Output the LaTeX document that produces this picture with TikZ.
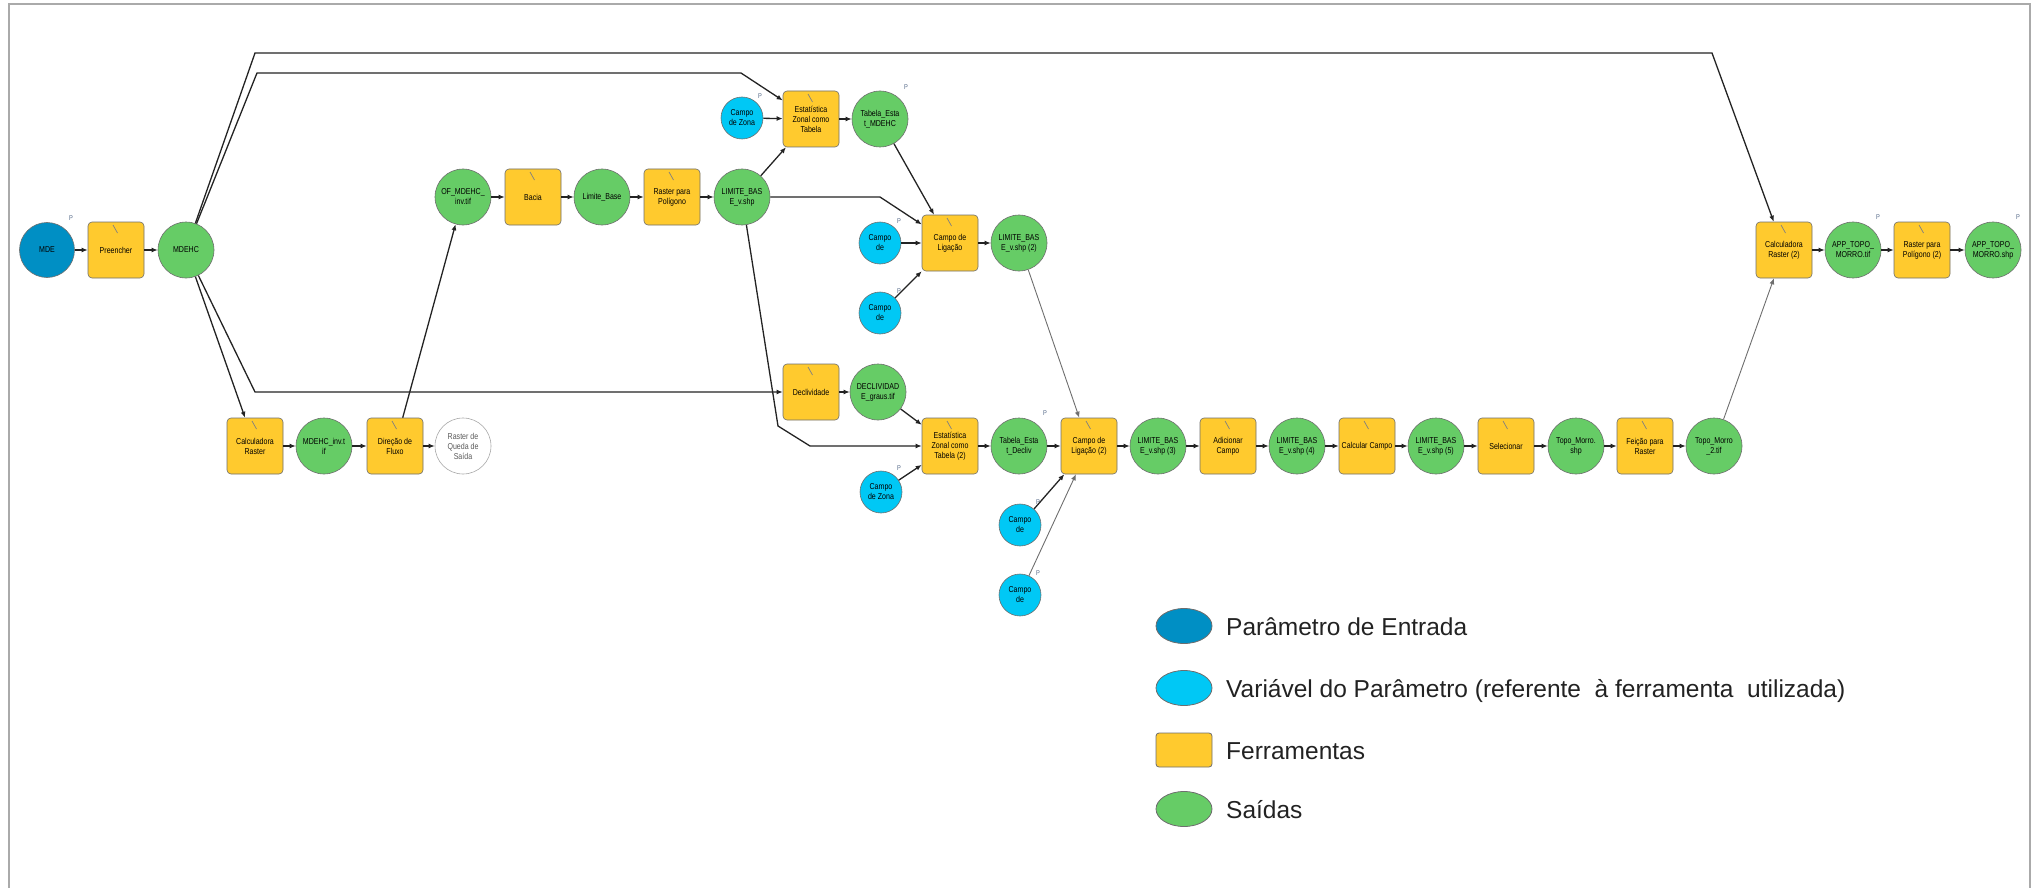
\documentclass[tikz,border=0pt]{standalone}
\usepackage{fontspec}
\setmainfont{Liberation Sans}
\newfontfamily\nf[FakeStretch=0.82]{Liberation Sans}
\usetikzlibrary{shapes.geometric,arrows.meta}
\definecolor{cblue}{RGB}{0,143,196}
\definecolor{ccyan}{RGB}{0,200,245}
\definecolor{cyel}{RGB}{255,202,46}
\definecolor{cgreen}{RGB}{102,204,102}
\definecolor{cedge}{RGB}{110,110,110}
\definecolor{cline}{RGB}{35,35,35}
\definecolor{cthin}{RGB}{110,110,110}
\definecolor{cframe}{RGB}{170,170,170}
\definecolor{cP}{RGB}{90,110,140}
\definecolor{ctext}{RGB}{34,34,34}
\begin{document}
\begin{tikzpicture}[x=1pt,y=-1pt,
  lbl/.style={font=\nf\fontsize{8.6}{10}\selectfont, align=center, text=black},
  tool/.style={lbl, rectangle, rounded corners=4pt, draw=cedge, line width=0.6pt, fill=cyel,
    minimum width=56pt, minimum height=56pt, inner sep=1pt,
    path picture={\draw[gray, line width=0.7pt] ([xshift=-3pt,yshift=-3pt]path picture bounding box.north) -- ([xshift=1.5pt,yshift=-11pt]path picture bounding box.north);}},
  outp/.style={lbl, circle, draw=cedge, line width=0.6pt, fill=cgreen, minimum size=56pt, inner sep=0pt},
  varp/.style={lbl, circle, draw=cedge, line width=0.6pt, fill=ccyan, minimum size=42pt, inner sep=0pt},
  inp/.style={lbl, circle, draw=cedge, line width=0.6pt, fill=cblue, minimum size=55pt, inner sep=0pt},
  emptyp/.style={lbl, circle, draw=cedge!60, line width=0.6pt, fill=white, minimum size=56pt, inner sep=0pt, text=gray!70!black},
  conn/.style={draw=cline, line width=1.3pt, -{Latex[length=6pt,width=5pt]}},
  thinconn/.style={draw=cthin, line width=0.9pt, -{Latex[length=6pt,width=5pt]}},
  ptag/.style={font=\nf\fontsize{7}{7}\selectfont, text=cP, inner sep=0pt},
  lgtext/.style={font=\fontsize{24.5}{28}\selectfont, text=ctext, inner sep=0pt, anchor=base west},
  lgell/.style={ellipse, draw=cedge, line width=0.8pt, minimum width=56pt, minimum height=35pt, inner sep=0pt}
]
\useasboundingbox (0,0) rectangle (2038,888);
\draw[cframe, line width=2pt] (9,888) -- (9,4) -- (2030,4) -- (2030,888);

% nodes
\node[inp] (mde) at (47,250) {MDE};
\node[tool] (pre) at (116,250) {Preencher};
\node[outp] (mdehc) at (186,250) {MDEHC};
\node[tool] (calc) at (255,446) {Calculadora\\Raster};
\node[outp] (inv) at (324,446) {MDEHC\_inv.t\\if};
\node[tool] (dir) at (395,446) {Direção de\\Fluxo};
\node[emptyp] (queda) at (463,446) {Raster de\\Queda de\\Saída};
\node[outp] (of) at (463,197) {OF\_MDEHC\_\\inv.tif};
\node[tool] (bacia) at (533,197) {Bacia};
\node[outp] (lbase) at (602,197) {Limite\_Base};
\node[tool] (rp) at (672,197) {Raster para\\Polígono};
\node[outp] (lim1) at (742,197) {LIMITE\_BAS\\E\_v.shp};
\node[varp] (cz1) at (742,118) {Campo\\de Zona};
\node[tool] (ez1) at (811,119) {Estatística\\Zonal como\\Tabela};
\node[outp] (tab1) at (880,119) {Tabela\_Esta\\t\_MDEHC};
\node[varp] (ca1) at (880,243) {Campo\\de};
\node[varp] (cb1) at (880,313) {Campo\\de};
\node[tool] (cl1) at (950,243) {Campo de\\Ligação};
\node[outp] (lim2) at (1019,243) {LIMITE\_BAS\\E\_v.shp (2)};
\node[tool] (decl) at (811,392) {Declividade};
\node[outp] (dec) at (878,392) {DECLIVIDAD\\E\_graus.tif};
\node[tool] (ez2) at (950,446) {Estatística\\Zonal como\\Tabela (2)};
\node[varp] (cz2) at (881,492) {Campo\\de Zona};
\node[outp] (tab2) at (1019,446) {Tabela\_Esta\\t\_Decliv};
\node[tool] (cl2) at (1089,446) {Campo de\\Ligação (2)};
\node[varp] (ca2) at (1020,525) {Campo\\de};
\node[varp] (cb2) at (1020,595) {Campo\\de};
\node[outp] (lim3) at (1158,446) {LIMITE\_BAS\\E\_v.shp (3)};
\node[tool] (adic) at (1228,446) {Adicionar\\Campo};
\node[outp] (lim4) at (1297,446) {LIMITE\_BAS\\E\_v.shp (4)};
\node[tool] (ccampo) at (1367,446) {Calcular Campo};
\node[outp] (lim5) at (1436,446) {LIMITE\_BAS\\E\_v.shp (5)};
\node[tool] (sel) at (1506,446) {Selecionar};
\node[outp] (tshp) at (1576,446) {Topo\_Morro.\\shp};
\node[tool] (feic) at (1645,446) {Feição para\\Raster};
\node[outp] (t2) at (1714,446) {Topo\_Morro\\\_2.tif};
\node[tool] (calc2) at (1784,250) {Calculadora\\Raster (2)};
\node[outp] (apptif) at (1853,250) {APP\_TOPO\_\\MORRO.tif};
\node[tool] (rp2) at (1922,250) {Raster para\\Polígono (2)};
\node[outp] (appshp) at (1993,250) {APP\_TOPO\_\\MORRO.shp};

% P tags
\node[ptag] (p1) at (71,218) {P};
\node[ptag] (p2) at (760,96) {P};
\node[ptag] (p3) at (906,87) {P};
\node[ptag] (p4) at (899,221) {P};
\node[ptag] (p5) at (899,291) {P};
\node[ptag] (p6) at (899,468) {P};
\node[ptag] (p7) at (1045,413) {P};
\node[ptag] (p8) at (1038,502) {P};
\node[ptag] (p9) at (1038,573) {P};
\node[ptag] (p10) at (1878,217) {P};
\node[ptag] (p11) at (2018,217) {P};

% bend points
\coordinate (t1a) at (255,53);
\coordinate (t1b) at (1712,53);
\coordinate (t2a) at (257,73);
\coordinate (t2b) at (741,73);
\coordinate (d1) at (255,392);
\coordinate (l1a) at (880,197);
\coordinate (l1b) at (778,426);
\coordinate (l1c) at (810,446);

% connectors
\draw[conn] (mde) -- (pre);
\draw[conn] (pre) -- (mdehc);
\draw[conn] (mdehc) -- (t1a) -- (t1b) -- (calc2);
\draw[conn] (mdehc) -- (t2a) -- (t2b) -- (ez1);
\draw[conn] (mdehc) -- (calc);
\draw[conn] (mdehc) -- (d1) -- (decl);
\draw[conn] (calc) -- (inv);
\draw[conn] (inv) -- (dir);
\draw[conn] (dir) -- (queda);
\draw[conn] (dir) -- (of);
\draw[conn] (of) -- (bacia);
\draw[conn] (bacia) -- (lbase);
\draw[conn] (lbase) -- (rp);
\draw[conn] (rp) -- (lim1);
\draw[conn] (lim1) -- (ez1);
\draw[conn] (lim1) -- (l1a) -- (cl1);
\draw[conn] (lim1) -- (l1b) -- (l1c) -- (ez2);
\draw[conn] (cz1) -- (ez1);
\draw[conn] (ez1) -- (tab1);
\draw[conn] (tab1) -- (cl1);
\draw[conn] (ca1) -- (cl1);
\draw[conn] (cb1) -- (cl1);
\draw[conn] (cl1) -- (lim2);
\draw[thinconn] (lim2) -- (cl2);
\draw[conn] (decl) -- (dec);
\draw[conn] (dec) -- (ez2);
\draw[conn] (cz2) -- (ez2);
\draw[conn] (ez2) -- (tab2);
\draw[conn] (tab2) -- (cl2);
\draw[conn] (ca2) -- (cl2);
\draw[thinconn] (cb2) -- (cl2);
\draw[conn] (cl2) -- (lim3);
\draw[conn] (lim3) -- (adic);
\draw[conn] (adic) -- (lim4);
\draw[conn] (lim4) -- (ccampo);
\draw[conn] (ccampo) -- (lim5);
\draw[conn] (lim5) -- (sel);
\draw[conn] (sel) -- (tshp);
\draw[conn] (tshp) -- (feic);
\draw[conn] (feic) -- (t2);
\draw[thinconn] (t2) -- (calc2);
\draw[conn] (calc2) -- (apptif);
\draw[conn] (apptif) -- (rp2);
\draw[conn] (rp2) -- (appshp);

% legend
\node[lgell, fill=cblue] (lg1) at (1184,626) {};
\node[lgtext] (lt1) at (1226,635) {Parâmetro de Entrada};
\node[lgell, fill=ccyan] (lg2) at (1184,688) {};
\node[lgtext] (lt2) at (1226,697) {Variável do Parâmetro (referente~ à ferramenta~ utilizada)};
\node[rectangle, rounded corners=3pt, draw=cedge, line width=0.8pt, fill=cyel, minimum width=56pt, minimum height=34pt, inner sep=0pt] (lg3) at (1184,750) {};
\node[lgtext] (lt3) at (1226,759) {Ferramentas};
\node[lgell, fill=cgreen] (lg4) at (1184,809) {};
\node[lgtext] (lt4) at (1226,818) {Saídas};
\end{tikzpicture}
\end{document}
